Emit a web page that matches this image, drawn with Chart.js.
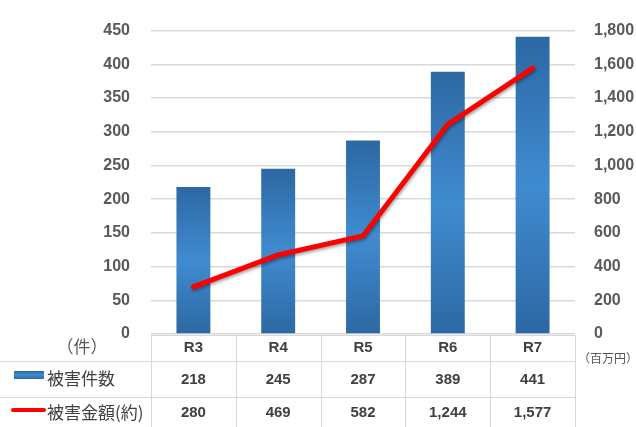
<!DOCTYPE html>
<html lang="ja">
<head>
<meta charset="utf-8">
<title>被害件数・被害金額</title>
<script src="https://cdn.jsdelivr.net/npm/chart.js@4.4.1/dist/chart.umd.min.js"></script>
<style>
  html, body { margin: 0; padding: 0; background: #fff; }
  #wrap { width: 636px; height: 427px; position: relative; }
</style>
</head>
<body>
<div id="wrap"><canvas id="chart" width="636" height="427"></canvas></div>
<script>
// categories and series
const categories = ["R3", "R4", "R5", "R6", "R7"];
const countValues = [218, 245, 287, 389, 441];      // 被害件数 (件)
const amountValues = [280, 469, 582, 1244, 1577];   // 被害金額(約) (百万円)
const countLabel = "被害件数";
const amountLabel = "被害金額(約)";
const leftUnit = "（件）";
const rightUnit = "（百万円）";

const jpFont = '"Noto Sans CJK JP", "Noto Sans", sans-serif';
const numFont = '"Liberation Sans", Arial, sans-serif';
const textColor = "#595959";
const lineColor = "#d9d9d9";

// vertical gradient per bar: dark at both ends, lighter in the middle
function barGradient(ctx) {
  const chart = ctx.chart;
  if (!chart.chartArea || ctx.parsed == null) return "#3a7fc1";
  const y = chart.scales.y;
  const top = y.getPixelForValue(ctx.parsed.y);
  const bottom = y.getPixelForValue(0);
  const g = chart.ctx.createLinearGradient(0, top, 0, bottom);
  g.addColorStop(0, "#2c68a3");
  g.addColorStop(0.5, "#408bd0");
  g.addColorStop(1, "#2c68a3");
  return g;
}

// soft shadow under the red line, like the office chart
const lineShadow = {
  id: "lineShadow",
  beforeDatasetDraw(chart, args) {
    if (args.meta.type !== "line") return;
    const c = chart.ctx;
    c.save();
    c.shadowColor = "rgba(0,0,0,0.35)";
    c.shadowBlur = 3;
    c.shadowOffsetX = 1;
    c.shadowOffsetY = 2;
  },
  afterDatasetDraw(chart, args) {
    if (args.meta.type !== "line") return;
    chart.ctx.restore();
  }
};

// data table under the plot, columns taken from the x scale
const dataTable = {
  id: "dataTable",
  afterDraw(chart) {
    const c = chart.ctx;
    const area = chart.chartArea;
    const x = chart.scales.x;
    const half = (x.getPixelForValue(1) - x.getPixelForValue(0)) / 2;
    const rowTop = area.bottom + 1;
    const row1 = 361, row2 = 397, rowEnd = 427;

    c.save();
    c.strokeStyle = lineColor;
    c.lineWidth = 1;
    c.beginPath();
    // top line and row separators
    c.moveTo(area.left, rowTop + 0.5); c.lineTo(area.right, rowTop + 0.5);
    c.moveTo(0, row1 + 0.5); c.lineTo(area.right, row1 + 0.5);
    c.moveTo(0, row2 + 0.5); c.lineTo(area.right, row2 + 0.5);
    // column separators
    for (let i = 0; i <= categories.length; i++) {
      const px = Math.round(x.getPixelForValue(i) - half) + 0.5;
      c.moveTo(px, rowTop); c.lineTo(px, rowEnd);
    }
    c.stroke();

    // cell text
    c.fillStyle = "#404040";
    c.textAlign = "center";
    c.textBaseline = "middle";
    c.font = "bold 15px " + numFont;
    categories.forEach((cat, i) => {
      const cx = x.getPixelForValue(i);
      c.fillText(cat, cx, 348);
      c.fillText(countValues[i].toLocaleString("en-US"), cx, 380);
      c.fillText(amountValues[i].toLocaleString("en-US"), cx, 413);
    });

    // row headers with legend swatches
    c.textAlign = "left";
    c.font = "17px " + jpFont;
    const sw = c.createLinearGradient(0, 371, 0, 379);
    sw.addColorStop(0, "#2c68a3");
    sw.addColorStop(0.5, "#408bd0");
    sw.addColorStop(1, "#2c68a3");
    c.fillStyle = sw;
    c.fillRect(14, 371, 30, 8);
    c.fillStyle = "#404040";
    c.fillText(countLabel, 47, 379);

    c.strokeStyle = "#ff0000";
    c.lineWidth = 4;
    c.lineCap = "round";
    c.beginPath();
    c.moveTo(13, 410); c.lineTo(44, 410);
    c.stroke();
    c.fillText(amountLabel, 47, 413);

    // axis units
    c.font = "17px " + jpFont;
    c.fillStyle = textColor;
    c.textAlign = "center";
    c.fillText(leftUnit, 82, 347);
    c.font = "12px " + jpFont;
    c.fillText(rightUnit, 608, 358);
    c.restore();
  }
};

new Chart(document.getElementById("chart"), {
  data: {
    labels: categories,
    datasets: [
      {
        type: "line",
        label: amountLabel,
        data: amountValues,
        yAxisID: "y1",
        borderColor: "#ff0000",
        borderWidth: 5,
        borderCapStyle: "round",
        borderJoinStyle: "round",
        pointRadius: 0,
        tension: 0,
        order: 0
      },
      {
        type: "bar",
        label: countLabel,
        data: countValues,
        yAxisID: "y",
        backgroundColor: barGradient,
        categoryPercentage: 1,
        barPercentage: 0.4,
        order: 1
      }
    ]
  },
  plugins: [lineShadow, dataTable],
  options: {
    responsive: false,
    animation: false,
    layout: { padding: { top: 20 } },
    plugins: { legend: { display: false }, tooltip: { enabled: false } },
    scales: {
      x: {
        grid: { display: false },
        border: { display: false },
        ticks: { display: false },
        afterFit(s) { s.height = 93; }
      },
      y: {
        position: "left",
        min: 0,
        max: 450,
        ticks: {
          stepSize: 50,
          padding: 21,
          color: textColor,
          font: { family: numFont, size: 16, weight: "bold" }
        },
        grid: { color: lineColor, lineWidth: 1.5, drawTicks: false },
        border: { display: false },
        afterFit(s) { s.width = 151; }
      },
      y1: {
        position: "right",
        min: 0,
        max: 1800,
        ticks: {
          stepSize: 200,
          padding: 19,
          color: textColor,
          font: { family: numFont, size: 16, weight: "bold" },
          callback: v => v.toLocaleString("en-US")
        },
        grid: { display: false, drawTicks: false },
        border: { display: false },
        afterFit(s) { s.width = 61; }
      }
    }
  }
});
</script>
</body>
</html>
